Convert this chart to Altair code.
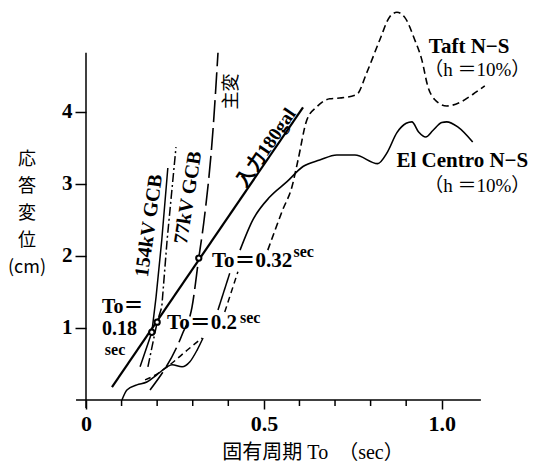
import altair as alt
import pandas as pd

SERIF = "Liberation Serif, Noto Sans CJK JP"
CJK = "Noto Sans CJK JP"

W, H = 402, 392
X_DOMAIN = [0, 1.13]
Y_DOMAIN = [0, 5.44]

# axes
x_major = [0, 0.5, 1.0]
x_minor = [0.1, 0.2, 0.3, 0.4, 0.6, 0.7, 0.8, 0.9]
y_ticks = [1, 2, 3, 4]
x_axis_span = [-0.028, 1.11]
y_axis_span = [-0.11, 4.82]

# straight input line (入力180gal)
input_x = [0.073, 0.610]
input_y = [0.18, 4.06]

# 154kV GCB (solid)
gcb154_x = [0.152, 0.185, 0.197, 0.213, 0.230]
gcb154_y = [0.46, 0.94, 1.43, 2.22, 3.22]

# 77kV GCB (dash-dot)
gcb77_x = [0.174, 0.200, 0.213, 0.228, 0.253]
gcb77_y = [0.46, 1.08, 1.29, 2.22, 3.51]

# 主変 (long dashes)
shuhen_x = [0.180, 0.272, 0.298, 0.317, 0.331, 0.357, 0.371]
shuhen_y = [0.14, 0.93, 1.29, 1.97, 2.46, 3.75, 4.82]

# low loop near origin
loop_solid_x = [0.101, 0.115, 0.143, 0.171, 0.199, 0.228, 0.242, 0.270, 0.292, 0.312, 0.329]
loop_solid_y = [0.00, 0.14, 0.21, 0.25, 0.35, 0.46, 0.49, 0.46, 0.53, 0.69, 0.86]
loop_dash_x = [0.166, 0.185, 0.236, 0.284, 0.326]
loop_dash_y = [0.28, 0.32, 0.49, 0.69, 0.86]

# El Centro N-S (solid), lower piece and main piece
elc_lo_x = [0.371, 0.404]
elc_lo_y = [1.25, 1.76]
elc_x = [0.433, 0.469, 0.517, 0.565, 0.610, 0.657, 0.705, 0.756, 0.820, 0.846,
         0.874, 0.900, 0.916, 0.935, 0.955, 0.975, 1.000, 1.014, 1.045, 1.087]
elc_y = [2.08, 2.50, 2.82, 3.03, 3.24, 3.33, 3.40, 3.40, 3.28, 3.43,
         3.71, 3.84, 3.86, 3.72, 3.65, 3.74, 3.85, 3.86, 3.79, 3.58]

# Taft N-S (dashed), lower piece and main piece
taft_lo_x = [0.390, 0.427]
taft_lo_y = [1.22, 1.78]
taft_x = [0.511, 0.553, 0.579, 0.596, 0.621, 0.649, 0.685, 0.713, 0.761, 0.789,
          0.826, 0.854, 0.874, 0.896, 0.924, 0.944, 0.961, 0.980, 1.014, 1.051,
          1.087, 1.121]
taft_y = [2.08, 2.64, 2.96, 3.33, 3.89, 4.07, 4.18, 4.19, 4.24, 4.54,
          5.00, 5.32, 5.38, 5.31, 5.00, 4.72, 4.35, 4.17, 4.08, 4.13,
          4.24, 4.36]

# marked points To = 0.18, 0.2, 0.32
pt_x = [0.185, 0.200, 0.317]
pt_y = [0.94, 1.08, 1.97]

xscale = alt.Scale(domain=X_DOMAIN, nice=False, zero=False)
yscale = alt.Scale(domain=Y_DOMAIN, nice=False, zero=False)
xaxis = alt.Axis(values=x_major, domain=False, grid=False, tickSize=9, tickWidth=1.5,
                 tickColor="black", labelFont=SERIF, labelFontSize=22, labelFontWeight="bold",
                 labelColor="black", labelPadding=4, labelFlush=False, title=None,
                 labelExpr="datum.value == 0 ? '0' : format(datum.value, '.1f')")
yaxis = alt.Axis(values=y_ticks, domain=False, grid=False, tickSize=11, tickWidth=1.5,
                 tickColor="black", labelFont=SERIF, labelFontSize=21, labelFontWeight="bold",
                 labelColor="black", labelPadding=3, title=None, format="d")


def X(f="x"):
    return alt.X(f"{f}:Q", scale=xscale, axis=xaxis)


def Y(f="y"):
    return alt.Y(f"{f}:Q", scale=yscale, axis=yaxis)


def line(xs, ys, dash=None, width=1.5, interp="monotone"):
    df = pd.DataFrame({"x": xs, "y": ys, "i": list(range(len(xs)))})
    kw = dict(color="black", strokeWidth=width, interpolate=interp)
    if dash:
        kw["strokeDash"] = dash
    return alt.Chart(df).mark_line(**kw).encode(x=X(), y=Y(), order="i:Q")


def label(text, x, y, size=20, angle=0, align="left", font=SERIF, baseline="middle",
          weight="bold"):
    df = pd.DataFrame({"t": [text], "x": [x], "y": [y]})
    return alt.Chart(df).mark_text(font=font, fontSize=size, angle=angle, align=align,
                                   baseline=baseline, color="black",
                                   fontWeight=weight).encode(
        x=X(), y=Y(), text="t:N")


layers = []
# axis lines
layers.append(alt.Chart(pd.DataFrame({"x": [x_axis_span[0]], "x2": [x_axis_span[1]], "y": [0]}))
              .mark_rule(color="black", strokeWidth=1.5)
              .encode(x=X(), x2="x2:Q", y=Y()))
layers.append(alt.Chart(pd.DataFrame({"x": [0], "y": [y_axis_span[0]], "y2": [y_axis_span[1]]}))
              .mark_rule(color="black", strokeWidth=1.5)
              .encode(x=X(), y=Y(), y2="y2:Q"))
# minor ticks
layers.append(alt.Chart(pd.DataFrame({"x": x_minor}))
              .mark_rule(color="black", strokeWidth=1.5)
              .encode(x=X(), y=alt.value(H), y2=alt.value(H + 6)))

layers += [
    line(input_x, input_y, width=2.2, interp="linear"),
    line(gcb154_x, gcb154_y, width=1.5, interp="linear"),
    line(gcb77_x, gcb77_y, dash=[9, 3, 2, 3], width=1.5, interp="linear"),
    line(shuhen_x, shuhen_y, dash=[22, 6], width=1.6),
    line(loop_solid_x, loop_solid_y, width=1.5),
    line(loop_dash_x, loop_dash_y, dash=[6, 4], width=1.5),
    line(elc_lo_x, elc_lo_y, width=1.5),
    line(elc_x, elc_y, width=1.6),
    line(taft_lo_x, taft_lo_y, dash=[6, 4], width=1.5),
    line(taft_x, taft_y, dash=[7, 4], width=1.6),
]

layers.append(alt.Chart(pd.DataFrame({"x": pt_x, "y": pt_y}))
              .mark_point(shape="circle", filled=True, fill="white", stroke="black",
                          strokeWidth=2, size=28, opacity=1)
              .encode(x=X(), y=Y()))

# annotations
layers += [
    label("Taft N−S", 1.077, 4.90, size=21, align="center"),
    label("（h ＝10%）", 1.100, 4.58, size=19, align="center", weight="normal"),
    label("El Centro N−S", 1.058, 3.32, size=21, align="center"),
    label("（h ＝10%）", 1.100, 2.97, size=19, align="center", weight="normal"),
    label("To＝0.32", 0.354, 1.93, size=21),
    label("sec", 0.583, 2.05, size=16),
    label("To＝0.2", 0.228, 1.07, size=21),
    label("sec", 0.433, 1.14, size=16),
    label("To＝", 0.045, 1.29, size=20),
    label("0.18", 0.045, 0.99, size=20),
    label("sec", 0.053, 0.70, size=16),
    label("154kV GCB", 0.177, 2.42, size=20, angle=278, align="center"),
    label("77kV GCB", 0.287, 2.81, size=20, angle=279, align="center"),
    label("主変", 0.410, 4.28, size=18, angle=270, align="center", font=CJK, weight="normal"),
    label("入力180gal", 0.506, 3.50, size=19, angle=304, align="center"),
]

# axis titles
layers.append(alt.Chart(pd.DataFrame({"a": [0]})).mark_text(
    font=CJK, fontSize=18, align="center", baseline="top", lineHeight=27, color="black"
).encode(x=alt.value(-59), y=alt.value(143),
         text=alt.value(["応", "答", "変", "位", "(cm)"])))
layers.append(alt.Chart(pd.DataFrame({"a": [0]})).mark_text(
    font=SERIF, fontSize=20, align="center", baseline="middle", color="black"
).encode(x=alt.value(227), y=alt.value(445), text=alt.value("固有周期  To　（sec）")))

chart = alt.layer(*layers).properties(
    width=W, height=H,
    autosize=alt.AutoSizeParams(type="none"),
    padding={"left": 78, "top": 0, "right": 44, "bottom": 63},
).configure(background="white").configure_view(stroke=None)

chart.save("out.html", embed_options={"renderer": "svg", "actions": False})
